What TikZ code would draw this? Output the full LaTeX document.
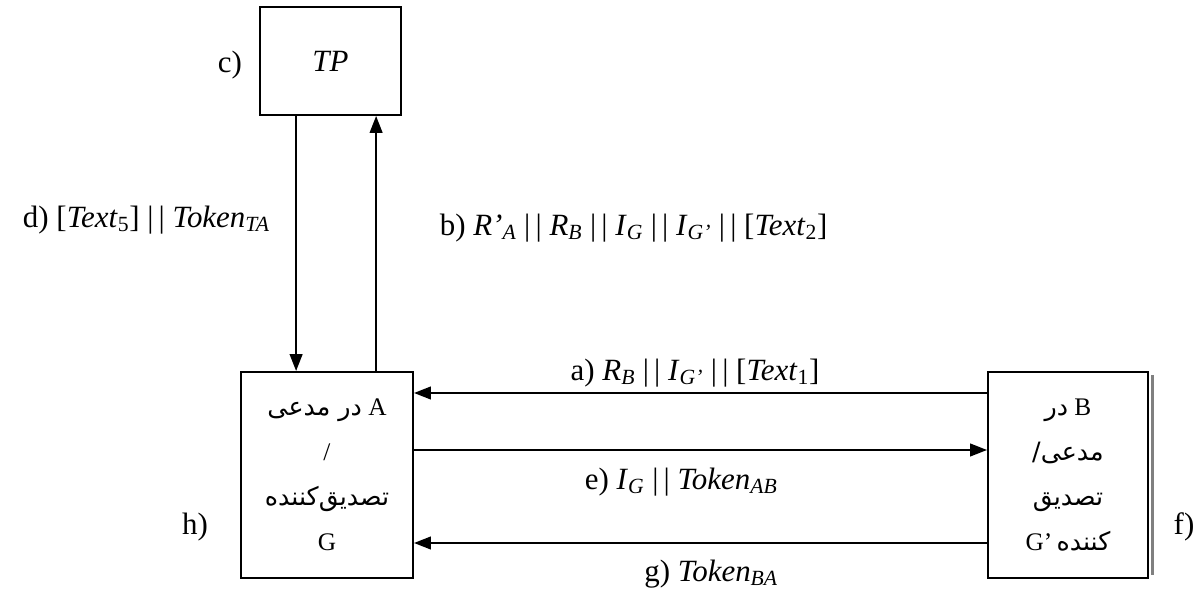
\documentclass[tikz,border=0pt]{standalone}
\usepackage{fontspec}
\setmainfont{Liberation Serif}
\newfontfamily\farsifont[Script=Arabic]{DejaVu Sans}
\TeXXeTstate=1
\usetikzlibrary{arrows.meta, positioning}
\newcommand{\msub}[2]{\textit{#1}\textsubscript{#2}}
\tikzset{
  party/.style={
    rectangle, draw, line width=1.4pt,
    minimum width=#1, minimum height=5.15cm,
    align=center, inner sep=0pt,
    font=\fontsize{18}{32}\selectfont
  },
  party/.default=4.3cm,
  arr/.style={-{Triangle[length=12pt, width=9pt]}, line width=1.4pt},
  lbl/.style={font=\fontsize{22}{26}\selectfont, inner sep=0pt},
}

\begin{document}
\begin{tikzpicture}
\useasboundingbox (0,0) rectangle (30.025,14.725);

% Third party and the two parties
\node[rectangle, draw, line width=1.4pt, minimum width=3.525cm, minimum height=2.7cm,
      font=\fontsize{22}{26}\selectfont] at (8.2625,13.2) (tp) {\textit{TP}};

\node[party=4.3cm] at (8.175,2.85) (pa) {
  \beginR A {\farsifont در مدعی}\endR\\
  /\\
  {\farsifont\beginR تصدیق‌کننده\endR}\\
  G
};

\node[party=4cm] at (26.7,2.85) (pb) {
  \beginR B {\farsifont در}\endR\\
  {\farsifont\beginR مدعی/\endR}\\
  {\farsifont\beginR تصدیق\endR}\\
  \beginR{\farsifont کننده}\,G’\endR
};
\draw[gray, line width=1.5pt] ([xshift=2.5pt, yshift=-3pt]pb.north east) -- ([xshift=2.5pt, yshift=3pt]pb.south east);

% Messages
\draw[arr] ([xshift=-0.86cm]tp.south) -- ([xshift=-0.86cm]tp.south |- pa.north);
\draw[arr] ([xshift=1.14cm]tp.south |- pa.north) -- ([xshift=1.14cm]tp.south);
\draw[arr] ([yshift=2.05cm]pb.west) -- ([yshift=2.05cm]pa.east);
\draw[arr] ([yshift=0.625cm]pa.east) -- ([yshift=0.625cm]pb.west);
\draw[arr] ([yshift=-1.7cm]pb.west) -- ([yshift=-1.7cm]pa.east);

\node[lbl] at (5.75,13.1) (stepC) {c)};
\node[lbl] at (3.66,9.225) (msgD) {d) [\msub{Text}{5}] |\,| \msub{Token}{\textit{TA}}};
\node[lbl] at (15.84,9.03) (msgB) {b) \msub{R’}{\textit{A}} |\,| \msub{R}{\textit{B}} |\,| \msub{I}{\textit{G}} |\,| \msub{I}{\textit{G’}} |\,| [\msub{Text}{2}]};
\node[lbl] at (17.375,5.4) (msgA) {a) \msub{R}{\textit{B}} |\,| \msub{I}{\textit{G’}} |\,| [\msub{Text}{1}]};
\node[lbl] at (17.03,2.675) (msgE) {e) \msub{I}{\textit{G}} |\,| \msub{Token}{\textit{AB}}};
\node[lbl] at (17.78,0.375) (msgG) {g) \msub{Token}{\textit{BA}}};
\node[lbl] at (4.875,1.55) (stepH) {h)};
\node[lbl] at (29.6,1.55) (stepF) {f)};

\end{tikzpicture}
\end{document}
